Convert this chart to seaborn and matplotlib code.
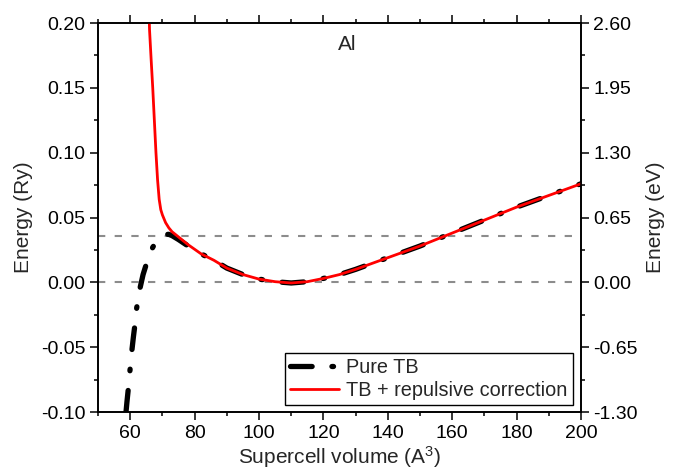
import matplotlib
matplotlib.use("Agg")
import matplotlib.pyplot as plt
import seaborn as sns
import pandas as pd
from matplotlib.ticker import MultipleLocator, FormatStrFormatter

# ---- data ----
tb_x = [58.7, 59.0, 59.5, 60.0, 60.5, 61.0, 61.5, 62.0, 63.0, 64.0, 65.0, 66.0, 67.0,
        68.0, 69.0, 70.0, 71.0, 72.0, 73.0, 75.0, 78, 82, 86, 90, 95, 100, 105, 110,
        115, 120, 125, 130, 140, 150, 160, 170, 180, 190, 200]
tb_y = [-0.100, -0.092, -0.080, -0.066, -0.053, -0.042, -0.032, -0.020, -0.005, 0.006,
        0.014, 0.021, 0.027, 0.031, 0.034, 0.036, 0.037, 0.037, 0.036, 0.033, 0.028,
        0.022, 0.017, 0.011, 0.006, 0.0025, 0.0005, -0.0005, 0.0005, 0.003, 0.006,
        0.010, 0.019, 0.028, 0.038, 0.048, 0.058, 0.067, 0.076]

rep_x = [65.5, 66.0, 66.5, 67.0, 67.5, 68.0, 68.5, 69.0, 69.5, 70.0, 70.5, 71.0, 71.5,
         72.0, 73.0, 74.0, 75.0, 78, 82, 86, 90, 95, 100, 105, 110, 115, 120, 125, 130,
         140, 150, 160, 170, 180, 190, 200]
rep_y = [0.24, 0.195, 0.172, 0.150, 0.125, 0.100, 0.079, 0.064, 0.056, 0.052, 0.049,
         0.046, 0.044, 0.042, 0.039, 0.037, 0.035, 0.029, 0.022, 0.017, 0.011, 0.006,
         0.0025, 0.0005, -0.0005, 0.0005, 0.003, 0.006, 0.010, 0.019, 0.028, 0.038,
         0.048, 0.058, 0.067, 0.076]

ref_levels = [0.0, 0.036]
ry_to_ev = 13.0

sns.set_theme(style="ticks")
plt.rcParams['font.family'] = ['Liberation Sans', 'DejaVu Sans']
plt.rcParams['mathtext.fontset'] = 'custom'
plt.rcParams['mathtext.rm'] = 'Liberation Sans'
plt.rcParams['mathtext.it'] = 'Liberation Sans:italic'
plt.rcParams['mathtext.bf'] = 'Liberation Sans:bold'

fig = plt.figure(figsize=(6.79, 4.76), dpi=100)
ax = fig.add_axes([98/679, 1-412/476, 483/679, 389/476])

for lv in ref_levels:
    ax.axhline(lv, color="#8c8c8c", lw=1.5, ls=(0, (3.5, 4.5)), zorder=1)

df_tb = pd.DataFrame({"x": tb_x, "y": tb_y})
df_rep = pd.DataFrame({"x": rep_x, "y": rep_y})
sns.lineplot(data=df_tb, x="x", y="y", ax=ax, color="black", lw=3.8,
             label="Pure TB", sort=False, zorder=2)
tb_line = ax.lines[-1]
tb_line.set_dashes((4.1, 3.75, 0.3, 3.75))
tb_line.set_dash_capstyle("round")
sns.lineplot(data=df_rep, x="x", y="y", ax=ax, color="#ff0000", lw=2,
             label="TB + repulsive correction", sort=False, zorder=3)

ax.set_xlim(50, 200)
ax.set_ylim(-0.10, 0.20)
ax.xaxis.set_major_locator(MultipleLocator(20))
ax.xaxis.set_minor_locator(MultipleLocator(10))
ax.yaxis.set_major_locator(MultipleLocator(0.05))
ax.yaxis.set_minor_locator(MultipleLocator(0.025))
ax.yaxis.set_major_formatter(FormatStrFormatter("%.2f"))
ax.set_xticks([60, 80, 100, 120, 140, 160, 180, 200])
ax.set_xlim(50, 200)
ax.set_xlabel("Supercell volume (A$^{3}$)", fontsize=15, labelpad=2)
ax.set_ylabel("Energy (Ry)", fontsize=15, labelpad=6)
ax.tick_params(which="both", direction="out", top=True, labelsize=14, width=1.1,
               color="black", labelcolor="black", pad=3)
ax.tick_params(which="major", length=6)
ax.tick_params(which="minor", length=3)
for s in ax.spines.values():
    s.set_linewidth(1.2)
    s.set_color("black")

ax2 = ax.twinx()
ax2.set_ylim(-0.10 * ry_to_ev, 0.20 * ry_to_ev)
ax2.yaxis.set_major_locator(MultipleLocator(0.65))
ax2.yaxis.set_minor_locator(MultipleLocator(0.325))
ax2.yaxis.set_major_formatter(FormatStrFormatter("%.2f"))
ax2.set_ylabel("Energy (eV)", fontsize=15, labelpad=6)
ax2.tick_params(which="both", direction="out", labelsize=14, width=1.1,
                color="black", labelcolor="black", pad=3)
ax2.tick_params(which="major", length=6)
ax2.tick_params(which="minor", length=3)
for s in ax2.spines.values():
    s.set_linewidth(1.2)
    s.set_color("black")

ax.text(0.515, 0.944, "Al", transform=ax.transAxes, fontsize=15,
        ha="center", va="center")

leg = ax.legend(loc="lower right", bbox_to_anchor=(0.983, 0.018), fontsize=14.3,
                frameon=True, fancybox=False, framealpha=1, edgecolor="black",
                borderpad=0.25, labelspacing=0.2, handlelength=2.5, handletextpad=0.35,
                borderaxespad=0)
leg.get_frame().set_linewidth(1.0)

fig.savefig("out.png", dpi=100)
